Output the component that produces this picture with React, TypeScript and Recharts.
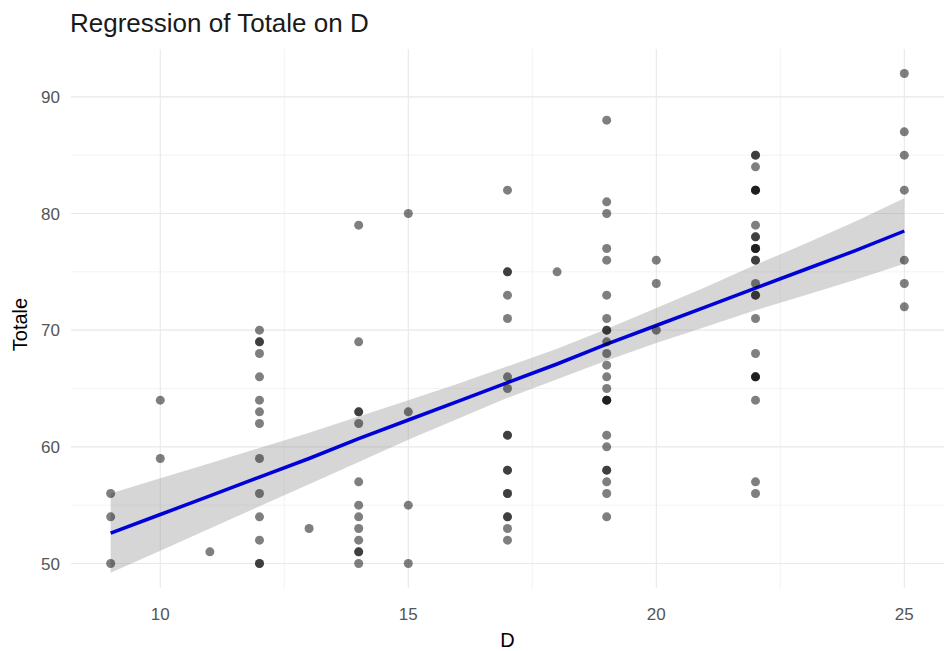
import React from "react";
import {
  ComposedChart, Scatter, Area, Line,
  XAxis, YAxis, CartesianGrid,
} from "recharts";

// ── Data ────────────────────────────────────────────────────────────────────
const D_VALUES = [9, 10, 11, 12, 13, 14, 15, 17, 18, 19, 20, 22, 25];

// Totale for each D column; repeated values = overlapping (darker) points
const TOTALE_BY_D = [
  [56, 54, 50],
  [64, 59],
  [51],
  [70, 69, 69, 68, 66, 64, 63, 62, 59, 56, 54, 52, 50, 50],
  [53],
  [79, 69, 63, 63, 62, 57, 55, 54, 53, 52, 51, 51, 50],
  [80, 63, 55, 50],
  [82, 75, 75, 73, 71, 66, 65, 61, 61, 58, 58, 56, 56, 54, 54, 53, 52],
  [75],
  [88, 81, 80, 77, 76, 73, 71, 70, 70, 69, 68, 67, 66, 65, 64, 64, 64, 61, 60, 58, 58, 57, 56, 54],
  [76, 74, 70],
  [85, 85, 84, 82, 82, 82, 79, 78, 78, 77, 77, 77, 76, 76, 74, 73, 73, 71, 68, 66, 66, 66, 64, 57, 56],
  [92, 87, 85, 82, 76, 74, 72],
];

// Fitted line and its confidence band, read at each integer D
const FIT_X    = [9, 10, 11, 12, 13, 14, 15, 16, 17, 18, 19, 20, 21, 22, 23, 24, 25];
const FIT_Y    = [52.6, 54.2, 55.8, 57.4, 59.0, 60.7, 62.3, 63.9, 65.5, 67.1, 68.8, 70.4, 72.0, 73.6, 75.2, 76.8, 78.5];
const BAND_LOW = [49.2, 51.1, 53.0, 54.9, 56.8, 58.7, 60.6, 62.4, 64.2, 65.8, 67.4, 68.9, 70.3, 71.7, 73.0, 74.3, 75.7];
const BAND_HI  = [56.0, 57.3, 58.6, 59.9, 61.2, 62.6, 64.0, 65.4, 66.9, 68.4, 70.1, 71.9, 73.7, 75.6, 77.4, 79.3, 81.3];

const X_TICKS = [10, 15, 20, 25];
const X_MINOR = [12.5, 17.5, 22.5];
const Y_TICKS = [50, 60, 70, 80, 90];
const Y_MINOR = [55, 65, 75, 85];

const points = D_VALUES.flatMap((d, i) => TOTALE_BY_D[i].map((t) => ({ x: d, y: t })));
const fitData = FIT_X.map((x, i) => ({ x, fit: FIT_Y[i], band: [BAND_LOW[i], BAND_HI[i]] }));

// ── Style tokens ───────────────────────────────────────────────────────────
const FONT = "'Liberation Sans', Arial, sans-serif";
const TICK = { fontSize: 17, fill: "#555", fontFamily: FONT };
const GRID_MAJOR = "#e8e8e8";
const GRID_MINOR = "#f0f0f0";

const Dot = (p: any) => <circle cx={p.cx} cy={p.cy} r={4.5} fill="#000" fillOpacity={0.5} />;

const App: React.FC = () => (
  <div style={{ position: "absolute", left: 0, top: 0, width: 946, height: 651, background: "#fff" }}>
    <div
      style={{
        position: "absolute", left: 70, top: 10, fontFamily: FONT,
        fontSize: 26, lineHeight: 1, color: "#1a1a1a",
      }}
    >
      Regression of Totale on D
    </div>
    <ComposedChart width={946} height={651} data={fitData} margin={{ top: 49, right: 2, left: 0, bottom: 0 }}>
      <CartesianGrid stroke={GRID_MINOR} strokeWidth={0.8} horizontalValues={Y_MINOR} verticalValues={X_MINOR} />
      <CartesianGrid stroke={GRID_MAJOR} strokeWidth={1.1} horizontalValues={Y_TICKS} verticalValues={X_TICKS} />
      <XAxis
        type="number" dataKey="x" domain={[8.2, 25.8]} ticks={X_TICKS}
        axisLine={false} tickLine={false} tick={TICK} tickMargin={14} height={63}
        label={{ value: "D", position: "insideBottom", offset: 4, style: { fontSize: 20, fill: "#000", fontFamily: FONT } }}
      />
      <YAxis
        type="number" domain={[47.9, 94.1]} ticks={Y_TICKS}
        axisLine={false} tickLine={false} tick={TICK} tickMargin={5} width={71}
        label={{
          content: (props: any) => {
            const vb = props.viewBox;
            const cy = vb.y + vb.height / 2 + 6;
            return (
              <text x={27} y={cy} transform={`rotate(-90 27 ${cy})`} textAnchor="middle"
                style={{ fontSize: 20, fill: "#000", fontFamily: FONT }}>
                Totale
              </text>
            );
          },
        }}
      />
      <Scatter data={points} dataKey="y" shape={Dot} isAnimationActive={false} />
      <Area dataKey="band" type="linear" stroke="none" fill="#999999" fillOpacity={0.4} isAnimationActive={false} />
      <Line dataKey="fit" type="linear" stroke="#0000d8" strokeWidth={3.5} dot={false} isAnimationActive={false} />
    </ComposedChart>
  </div>
);

export default App;
